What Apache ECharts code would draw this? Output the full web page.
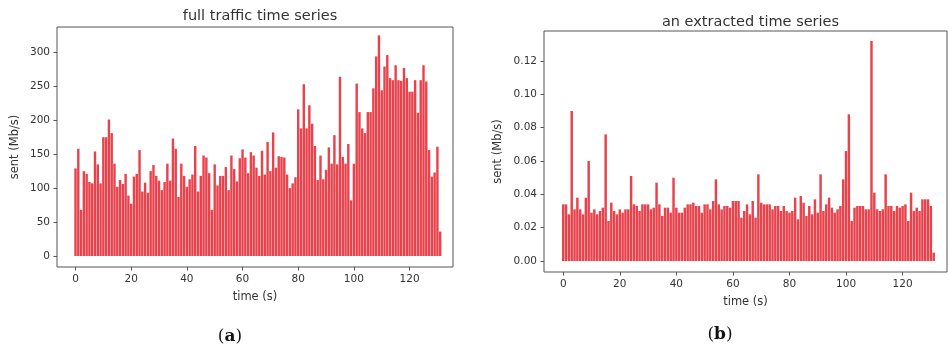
<!DOCTYPE html>
<html>
<head>
<meta charset="utf-8">
<script src="https://cdn.jsdelivr.net/npm/echarts@6/dist/echarts.min.js"></script>
<style>
  html, body { margin: 0; padding: 0; background: #fff; }
  #chart { width: 949px; height: 350px; }
</style>
</head>
<body>
<div id="chart"></div>
<script>
// Sent traffic per second (Mb/s), full capture
const fullTraffic = [
  129,158,68,125,121,109,107,154,135,107,175,175,201,181,136,102,112,106,121,89,
  77,117,121,156,95,108,93,125,134,118,111,97,109,136,111,173,158,87,136,118,
  102,113,120,162,95,118,148,145,122,68,135,104,118,118,131,97,148,128,110,144,
  157,145,122,153,148,130,118,155,120,168,125,182,130,147,146,145,120,100,107,116,
  216,188,253,188,222,195,162,112,148,113,127,160,136,178,135,264,146,136,165,82,
  136,254,212,188,181,212,212,247,294,325,244,279,296,262,259,281,259,258,277,262,
  242,242,259,211,259,281,257,156,117,123,161,36
];

// Sent traffic per second (Mb/s), one extracted flow
const extractedTraffic = [
  0.034,0.034,0.028,0.090,0.031,0.038,0.031,0.028,0.038,0.060,
  0.029,0.031,0.028,0.030,0.032,0.076,0.024,0.035,0.030,0.028,
  0.031,0.029,0.031,0.031,0.051,0.034,0.033,0.030,0.034,0.034,
  0.034,0.031,0.032,0.047,0.034,0.027,0.032,0.032,0.029,0.050,
  0.032,0.029,0.029,0.032,0.034,0.034,0.035,0.033,0.033,0.029,
  0.034,0.034,0.031,0.036,0.049,0.034,0.031,0.033,0.033,0.032,
  0.036,0.036,0.036,0.026,0.030,0.034,0.028,0.036,0.026,0.052,
  0.035,0.034,0.034,0.034,0.031,0.033,0.033,0.030,0.033,0.030,
  0.029,0.030,0.038,0.025,0.039,0.035,0.027,0.033,0.028,0.037,
  0.029,0.052,0.030,0.034,0.038,0.032,0.029,0.031,0.033,0.049,
  0.066,0.088,0.024,0.032,0.033,0.033,0.033,0.031,0.031,0.132,
  0.041,0.031,0.030,0.031,0.052,0.033,0.033,0.030,0.033,0.032,
  0.033,0.034,0.024,0.041,0.030,0.032,0.030,0.037,0.037,0.037,
  0.033,0.005
];

const timeTicks = [0, 20, 40, 60, 80, 100, 120];
const fullTicks = [0, 50, 100, 150, 200, 250, 300];
const extractedTicks = [0, 0.02, 0.04, 0.06, 0.08, 0.10, 0.12];

const titles = ['full traffic time series', 'an extracted time series'];
const xName = 'time (s)';
const yName = 'sent (Mb/s)';
const captions = ['a', 'b'];

const BAR = '#e8434c';
const FRAME = '#555';
const TXT = '#333';
const FONT = 'DejaVu Sans';

// plot areas (px) and axis ranges
const grids = [
  { left: 57, top: 27, width: 396, height: 240 },
  { left: 544, top: 31, width: 403, height: 241 }
];
const xRanges = [[-6.65, 135.6], [-6.8, 135.7]];
const yRanges = [[-16.2, 337.3], [-0.0066, 0.138]];

function barPx(g, r) { return 0.87 * g.width / (r[1] - r[0]); }

function xAxis(i) {
  return {
    type: 'value', gridIndex: i, min: xRanges[i][0], max: xRanges[i][1],
    splitLine: { show: false },
    axisLine: { show: false, onZero: false },
    axisTick: { show: true, inside: false, length: 3.5, customValues: timeTicks, lineStyle: { color: FRAME } },
    axisLabel: { customValues: timeTicks, color: TXT, fontFamily: FONT, fontSize: 10.5, margin: 7 },
    name: xName, nameLocation: 'middle', nameGap: 24,
    nameTextStyle: { color: TXT, fontFamily: FONT, fontSize: 11.5 }
  };
}

function yAxis(i, ticks, fmt) {
  return {
    type: 'value', gridIndex: i, min: yRanges[i][0], max: yRanges[i][1],
    splitLine: { show: false },
    axisLine: { show: false, onZero: false },
    axisTick: { show: true, inside: false, length: 3.5, customValues: ticks, lineStyle: { color: FRAME } },
    axisLabel: { customValues: ticks, color: TXT, fontFamily: FONT, fontSize: 10.5, margin: 7, formatter: fmt },
    name: yName, nameLocation: 'middle', nameGap: i === 0 ? 36 : 40, nameRotate: 90,
    nameTextStyle: { color: TXT, fontFamily: FONT, fontSize: 11.5 }
  };
}

const chart = echarts.init(document.getElementById('chart'), null, { renderer: 'canvas' });

chart.setOption({
  animation: false,
  backgroundColor: '#fff',
  title: titles.map((t, i) => ({
    text: t,
    left: grids[i].left + grids[i].width / 2,
    top: i === 0 ? 4 : 10,
    textAlign: 'center',
    textStyle: { color: TXT, fontFamily: FONT, fontSize: 14.5, fontWeight: 'normal' }
  })),
  grid: grids.map(g => Object.assign({ show: true, borderColor: FRAME, borderWidth: 1, backgroundColor: '#fff', containLabel: false }, g)),
  xAxis: [xAxis(0), xAxis(1)],
  yAxis: [
    yAxis(0, fullTicks, v => String(v)),
    yAxis(1, extractedTicks, v => v.toFixed(2))
  ],
  series: [
    {
      type: 'bar', xAxisIndex: 0, yAxisIndex: 0,
      barWidth: barPx(grids[0], xRanges[0]),
      itemStyle: { color: BAR },
      data: fullTraffic.map((v, t) => [t, v])
    },
    {
      type: 'bar', xAxisIndex: 1, yAxisIndex: 1,
      barWidth: barPx(grids[1], xRanges[1]),
      itemStyle: { color: BAR },
      data: extractedTraffic.map((v, t) => [t, v])
    }
  ],
  graphic: captions.map((c, i) => ({
    type: 'text',
    x: i === 0 ? 230 : 720,
    y: i === 0 ? 337 : 335,
    style: {
      text: '{p|(}{b|' + c + '}{p|)}',
      align: 'center', verticalAlign: 'middle',
      rich: {
        p: { fontFamily: 'DejaVu Serif', fontSize: 17, fill: '#111' },
        b: { fontFamily: 'DejaVu Serif', fontSize: 17, fontWeight: 'bold', fill: '#111' }
      }
    }
  }))
});
</script>
</body>
</html>
